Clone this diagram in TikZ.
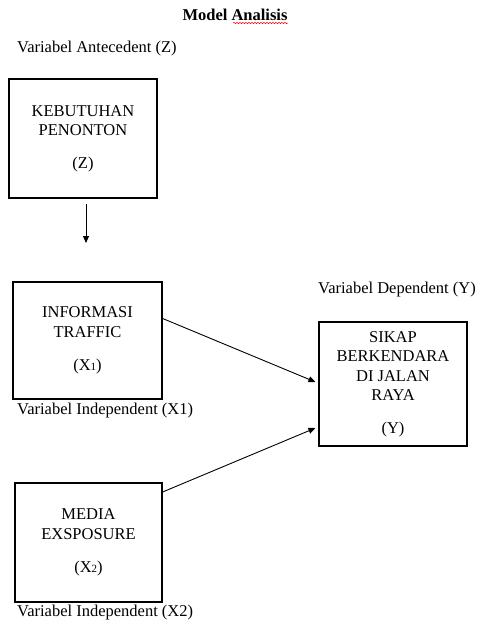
\documentclass[tikz,border=0pt]{standalone}
\usepackage{fontspec}
\setmainfont{Liberation Serif}
\usetikzlibrary{arrows.meta,decorations.pathmorphing}
\newcommand{\subdig}[1]{{\fontsize{11}{11}\selectfont#1}}
\begin{document}
\begin{tikzpicture}[x=1pt,y=-1pt,>={Triangle[length=7pt,width=6pt]},
  box/.style={draw,line width=1.1pt,align=center,inner sep=0pt,font=\fontsize{16.5}{19.5}\selectfont},
  lbl/.style={anchor=base west,inner sep=0pt,font=\fontsize{16.5}{19.5}\selectfont}]
\useasboundingbox (0,0) rectangle (481,625);
% title, with the spell-check wave under the second word
\node[anchor=base,inner sep=0pt,font=\fontsize{16.5}{19.5}\selectfont\bfseries] (title) at (235,20) {Model Analisis};
\draw[red,line width=0.5pt,decorate,decoration={snake,amplitude=0.7pt,segment length=3pt}] (233,23) -- (288,23);
% variable boxes
\node[box,minimum width=148,minimum height=119] (z) at (83,138.5) {KEBUTUHAN\\PENONTON\\[13pt](Z)};
\node[box,minimum width=149,minimum height=117] (x1) at (87.5,340.5) {INFORMASI\\TRAFFIC\\[14pt](X\subdig{1})};
\node[box,minimum width=148,minimum height=124] (y) at (393,384) {SIKAP\\BERKENDARA\\DI JALAN\\RAYA\\[13pt](Y)};
\node[box,minimum width=147,minimum height=119] (x2) at (88.5,542.5) {MEDIA\\EXSPOSURE\\[14pt](X\subdig{2})};
% labels
\node[lbl] (lz) at (17,52) {Variabel Antecedent (Z)};
\node[lbl] (ly) at (318,293) {Variabel Dependent (Y)};
\node[lbl] (lx1) at (17,414) {Variabel Independent (X1)};
\node[lbl] (lx2) at (17,616) {Variabel Independent (X2)};
% arrows
\coordinate (zend) at (86,243);
\draw[->,line width=0.9pt] ([xshift=3pt,yshift=-5pt]z.south) -- (zend);
\draw[->,line width=0.9pt] ([yshift=-37pt]x1.north east) -- ([xshift=-3pt,yshift=2pt]y.west);
\draw[->,line width=0.9pt] ([xshift=-1pt,yshift=-10pt]x2.north east) -- ([xshift=-3pt,yshift=-44pt]y.west);
\end{tikzpicture}
\end{document}
